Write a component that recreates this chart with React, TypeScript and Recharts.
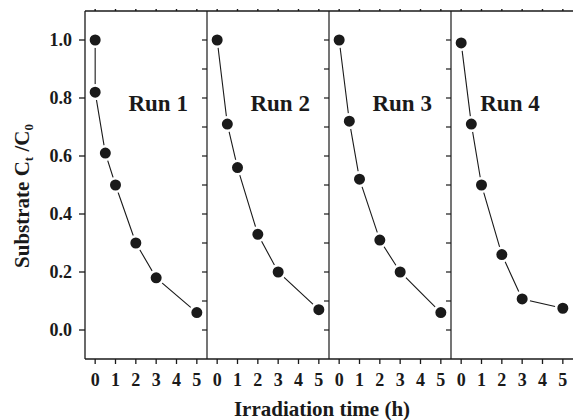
import { LineChart, Line, XAxis, YAxis, ReferenceDot } from 'recharts';

const FONT = '"Liberation Serif", "Times New Roman", serif';
const INK = '#1a1a1a';

// irradiation times (h) and C/C0 per run
const hoursRun1 = [0, 0, 0.5, 1, 2, 3, 5];
const valuesRun1 = [1.0, 0.82, 0.61, 0.5, 0.3, 0.18, 0.06];
const hoursRest = [0, 0.5, 1, 2, 3, 5];
const valuesRun2 = [1.0, 0.71, 0.56, 0.33, 0.2, 0.07];
const valuesRun3 = [1.0, 0.72, 0.52, 0.31, 0.2, 0.06];
const valuesRun4 = [0.99, 0.71, 0.5, 0.26, 0.107, 0.075];

const runNames = ['Run 1', 'Run 2', 'Run 3', 'Run 4'];
const runLabelX = [3.1, 3.1, 3.1, 2.4];
const runLabelY = 0.785;

const xTicks = [0, 1, 2, 3, 4, 5];
const yTicks = [0, 0.2, 0.4, 0.6, 0.8, 1.0];
const yMinorTicks = [0, 0.1, 0.2, 0.3, 0.4, 0.5, 0.6, 0.7, 0.8, 0.9, 1.0];

const toRows = (hours: number[], values: number[]) =>
  hours.map((h, i) => ({ h, v: values[i] }));

const panels = [
  toRows(hoursRun1, valuesRun1),
  toRows(hoursRest, valuesRun2),
  toRows(hoursRest, valuesRun3),
  toRows(hoursRest, valuesRun4),
];

const tickStyle = { fill: INK, fontSize: 18, fontWeight: 'bold', fontFamily: FONT };

const YTitle = ({ viewBox }: any) => {
  const cx = viewBox.x + 22;
  const cy = viewBox.y + viewBox.height / 2 + 11;
  return (
    <text
      x={cx}
      y={cy}
      transform={`rotate(-90, ${cx}, ${cy})`}
      textAnchor="middle"
      dominantBaseline="central"
      fill={INK}
      fontSize={21}
      fontWeight="bold"
      fontFamily={FONT}
    >
      Substrate C<tspan dy={6} fontSize={13}>t</tspan>
      <tspan dy={-6}> /C</tspan>
      <tspan dy={6} fontSize={13}>0</tspan>
    </text>
  );
};

function Panel({ index }: { index: number }) {
  const first = index === 0;
  const yWidth = first ? 85 : 8;
  const width = 122 + yWidth;
  const left = first ? 0 : 207 + (index - 1) * 122 - yWidth;
  return (
    <div style={{ position: 'absolute', left, top: 0 }}>
      <LineChart
        width={width}
        height={420}
        data={panels[index]}
        margin={{ top: 0, right: 0, bottom: 31, left: 0 }}
      >
        <XAxis
          xAxisId="top"
          orientation="top"
          dataKey="h"
          type="number"
          domain={[-0.5, 5.5]}
          ticks={xTicks}
          height={11}
          tickSize={2}
          tickFormatter={() => ''}
          stroke={INK}
          strokeWidth={1.4}
        />
        <XAxis
          dataKey="h"
          type="number"
          domain={[-0.5, 5.5]}
          ticks={xTicks}
          height={30}
          tickSize={5}
          tickMargin={9}
          tick={tickStyle}
          stroke={INK}
          strokeWidth={1.3}
        />
        {first ? (
          <YAxis
            type="number"
            domain={[-0.1, 1.1]}
            allowDataOverflow
            ticks={yTicks}
            width={yWidth}
            tickSize={6}
            tickMargin={7}
            tick={tickStyle}
            tickFormatter={(v: number) => v.toFixed(1)}
            stroke={INK}
            strokeWidth={1.3}
            label={<YTitle />}
          />
        ) : (
          <YAxis
            type="number"
            domain={[-0.1, 1.1]}
            allowDataOverflow
            ticks={yMinorTicks}
            width={yWidth}
            tickSize={5}
            tickFormatter={() => ''}
            stroke={INK}
            strokeWidth={1.2}
          />
        )}
        <Line
          dataKey="v"
          type="linear"
          stroke={INK}
          strokeWidth={1.1}
          dot={{ r: 6.8, fill: INK, stroke: '#fff', strokeWidth: 2.6 }}
          isAnimationActive={false}
        />
        <ReferenceDot
          x={runLabelX[index]}
          y={runLabelY}
          r={0}
          fill="none"
          stroke="none"
          label={{
            value: runNames[index],
            position: 'center',
            fill: INK,
            fontSize: 23,
            fontWeight: 'bold',
            fontFamily: FONT,
          }}
        />
      </LineChart>
    </div>
  );
}

export default function App() {
  return (
    <div
      style={{
        position: 'absolute',
        left: 0,
        top: 0,
        width: 573,
        height: 420,
        background: '#fff',
        overflow: 'hidden',
      }}
    >
      {[0, 1, 2, 3].map((i) => (
        <Panel key={i} index={i} />
      ))}
      <div
        style={{
          position: 'absolute',
          left: 222,
          top: 397,
          width: 200,
          height: 24,
          lineHeight: '24px',
          textAlign: 'center',
          fontFamily: FONT,
          fontWeight: 'bold',
          fontSize: 21,
          color: INK,
        }}
      >
        Irradiation time (h)
      </div>
    </div>
  );
}
